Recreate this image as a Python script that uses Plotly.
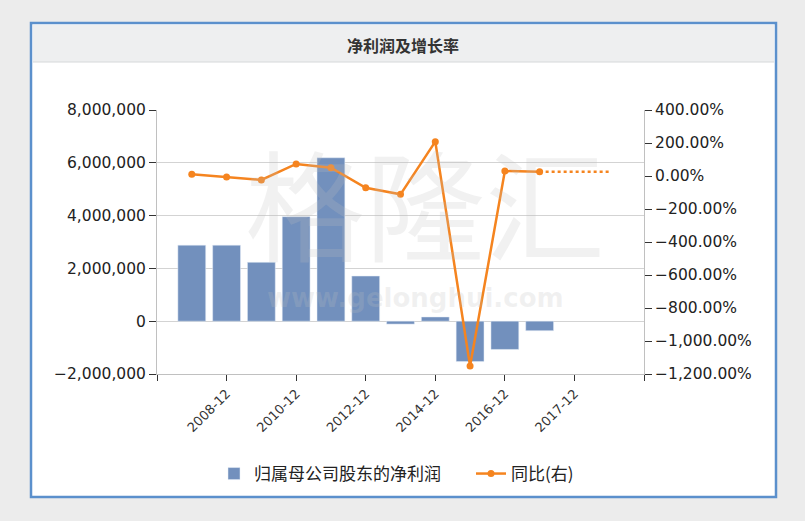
import plotly.graph_objects as go

# reporting periods (x categories) and the two series
periods = ["2007-12", "2008-12", "2009-12", "2010-12", "2011-12", "2012-12", "2013-12",
           "2014-12", "2015-12", "2016-12", "2017-09", "2017-12", "2018-03"]
net_profit = [2880000, 2880000, 2230000, 3960000, 6190000, 1710000, -110000,
              160000, -1530000, -1070000, -360000]
yoy_growth = [10, -6, -24, 73, 50, -71, -111, 208, -1152, 30, 26]
# dotted continuation of the growth line
yoy_forecast = [26, 26, 26]

bar_color = "#7290bd"
line_color = "#f5841f"
num_font = "DejaVu Sans"
cjk_font = "Noto Sans CJK SC"

x_idx = list(range(len(periods)))

# plot area in pixels: x 157..644, y 110..374
L, R, T, B = 157, 644, 110, 374
W, H = R - L, B - T


def px(x):
    return (x - L) / W


def py(y):
    return (B - y) / H


fig = go.Figure()

fig.add_trace(go.Bar(
    x=x_idx[:len(net_profit)],
    y=net_profit,
    name="归属母公司股东的净利润",
    marker_color=bar_color,
    width=0.8,
    yaxis="y",
    legend="legend",
))

fig.add_trace(go.Scatter(
    x=x_idx[:len(yoy_growth)],
    y=yoy_growth,
    name="同比(右)",
    mode="lines+markers",
    line=dict(color=line_color, width=2.5),
    marker=dict(color=line_color, size=7),
    yaxis="y2",
    legend="legend2",
))

fig.add_trace(go.Scatter(
    x=x_idx[len(yoy_growth) - 1:],
    y=yoy_forecast,
    mode="lines",
    line=dict(color=line_color, width=2.5, dash="dot"),
    showlegend=False,
    yaxis="y2",
))

tick_pos = list(range(-1, len(periods) + 1, 2))
tick_txt = [periods[i] if 0 <= i < len(periods) else "" for i in tick_pos]

shapes = [
    # outer panel with blue border
    dict(type="rect", xref="paper", yref="paper", layer="below",
         x0=px(31), x1=px(776), y0=py(497), y1=py(23),
         fillcolor="white", line=dict(color="#5b90cc", width=2.5)),
    # header bar
    dict(type="rect", xref="paper", yref="paper", layer="below",
         x0=px(33), x1=px(774), y0=py(62), y1=py(25),
         fillcolor="#eeeff0", line=dict(width=0)),
    dict(type="line", xref="paper", yref="paper", layer="below",
         x0=px(33), x1=px(774), y0=py(62), y1=py(62),
         line=dict(color="#d6d8da", width=1)),
]

annotations = [
    dict(text="<b>净利润及增长率</b>", xref="paper", yref="paper",
         x=px(403), y=py(45), xanchor="center", yanchor="middle", showarrow=False,
         font=dict(family=cjk_font, size=16, color="#333333")),
    # watermark
    dict(text="格隆汇", xref="paper", yref="paper", x=px(425), y=py(201),
         xanchor="center", yanchor="middle", showarrow=False,
         font=dict(family=cjk_font, size=120, color="rgba(190,190,190,0.22)")),
    dict(text="<b>www.gelonghui.com</b>", xref="paper", yref="paper",
         x=px(415), y=py(298), xanchor="center", yanchor="middle", showarrow=False,
         font=dict(family="DejaVu Sans", size=26, color="rgba(190,190,190,0.22)")),
]

legend_font = dict(family=cjk_font, size=17, color="#222222")

fig.update_layout(
    width=805, height=521,
    margin=dict(l=L, r=805 - R, t=T, b=521 - B, autoexpand=False),
    paper_bgcolor="#ececec",
    plot_bgcolor="rgba(0,0,0,0)",
    shapes=shapes,
    annotations=annotations,
    bargap=0.2,
    xaxis=dict(
        range=[-1, len(periods)],
        tickmode="array", tickvals=tick_pos, ticktext=tick_txt,
        tickangle=-45, ticks="outside", ticklen=6, tickcolor="#333333",
        showline=True, linecolor="#c0c0c0", linewidth=1,
        showgrid=False, zeroline=False,
        tickfont=dict(family=num_font, size=13, color="#333333"),
    ),
    yaxis=dict(
        range=[-2000000, 8000000], dtick=2000000, tickformat=",d",
        ticks="outside", ticklen=7, tickcolor="#333333",
        showline=True, linecolor="#c0c0c0",
        showgrid=True, gridcolor="#d3d3d3", zeroline=False,
        tickfont=dict(family=num_font, size=15.5, color="#222222"),
    ),
    yaxis2=dict(
        range=[-1200, 400], dtick=200, tickformat=",.2f", ticksuffix="%",
        overlaying="y", side="right",
        ticks="outside", ticklen=7, tickcolor="#333333",
        showline=True, linecolor="#c0c0c0",
        showgrid=False, zeroline=False,
        tickfont=dict(family=num_font, size=15.5, color="#222222"),
    ),
    legend=dict(
        orientation="h", x=px(214), xanchor="left", y=py(474), yanchor="middle",
        font=legend_font, bgcolor="rgba(0,0,0,0)",
    ),
    legend2=dict(
        orientation="h", x=px(471), xanchor="left", y=py(474), yanchor="middle",
        font=legend_font, bgcolor="rgba(0,0,0,0)",
    ),
)

# page body has a default 8px margin; drop it so the figure sits at (0, 0)
fig.write_html("out.html", config={"displayModeBar": False},
               post_script="document.body.style.margin='0';"
               "document.body.style.background='#ececec';")
